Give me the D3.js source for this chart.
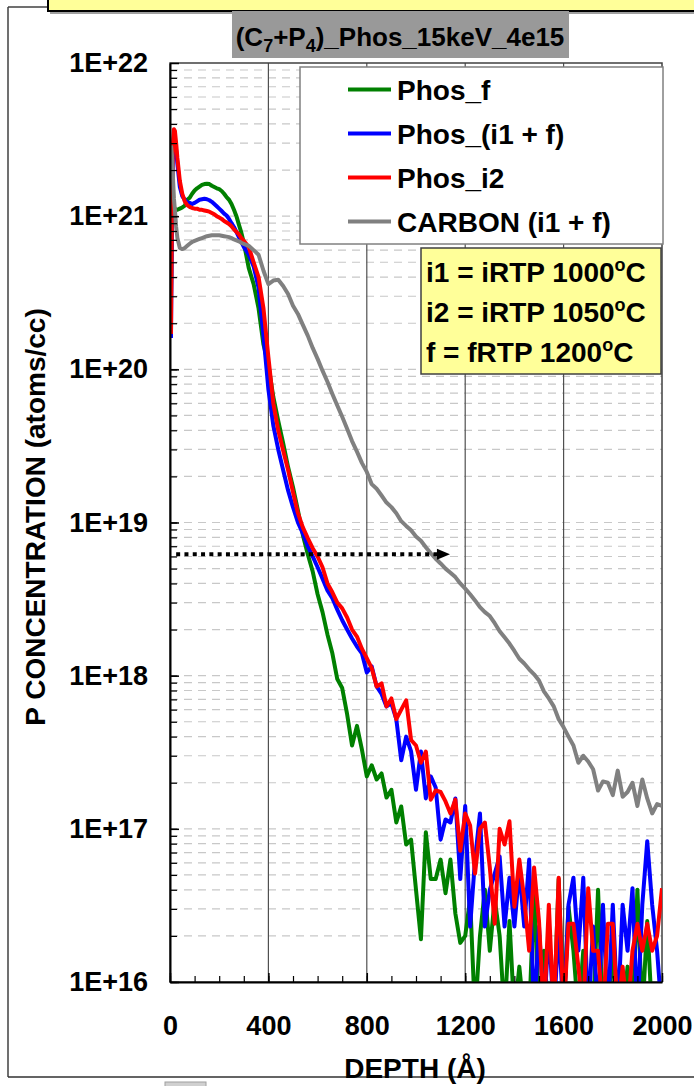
<!DOCTYPE html>
<html>
<head>
<meta charset="utf-8">
<script src="https://cdn.jsdelivr.net/npm/d3@7"></script>
<style>
  body { margin: 0; background: #fff; }
  svg { font-family: "Liberation Sans", Arial, sans-serif; font-weight: bold; }
</style>
</head>
<body>
<svg id="chart" width="694" height="1086"></svg>
<script>
// Depth grid (Angstrom) shared by all profiles
const depth = [4, 8, 12, 16, 20, 25, 30,
  40, 50, 60, 70, 80, 90, 100, 110, 120, 130, 140, 150, 160, 170, 180, 190, 200, 210, 220, 230, 240, 250, 260, 270, 280, 290, 300,
  320, 340, 360, 380, 400, 420, 440, 460, 480, 500, 520, 540, 560, 580, 600, 620, 640, 660, 680, 700, 720, 740, 760, 780, 800, 820, 840, 860, 880, 900, 920, 940, 960, 980, 1000,
  1020, 1040, 1060, 1080, 1100, 1120, 1140, 1160, 1180, 1200, 1220, 1240, 1260, 1280, 1300, 1320, 1340, 1360, 1380, 1400,
  1420, 1440, 1460, 1480, 1500, 1520, 1540, 1560, 1580, 1600, 1620, 1640, 1660, 1680, 1700, 1720, 1740, 1760, 1780, 1800,
  1820, 1840, 1860, 1880, 1900, 1920, 1940, 1960, 1980, 2000];

// Concentrations (atoms/cc)
const phosF = [3.0e20, 9.0e20, 1.12e21, 1.15e21, 1.12e21, 1.1e21, 1.1e21,
  1.12e21, 1.14e21, 1.17e21, 1.28e21, 1.32e21, 1.4e21, 1.47e21, 1.52e21, 1.56e21, 1.6e21, 1.62e21, 1.63e21, 1.62e21, 1.58e21, 1.55e21, 1.52e21, 1.5e21, 1.46e21, 1.4e21, 1.33e21, 1.28e21, 1.2e21, 1.1e21, 1.0e21, 8.8e20, 7.8e20, 6.7e20,
  4.6e20, 3.6e20, 2.5e20, 1.45e20, 1.07e20, 6.6e19, 4.6e19, 3.3e19, 2.3e19, 1.7e19, 1.2e19, 8.3e18, 6.2e18, 4.8e18, 3.4e18, 2.6e18, 1.86e18, 1.4e18, 9.5e17, 8.3e17, 5.6e17, 3.5e17, 4.7e17, 3.3e17, 2.2e17, 2.6e17, 2.1e17, 2.3e17, 1.6e17, 1.8e17, 1.1e17, 1.4e17, 7.9e16, 8.5e16, 4.0e16,
  1.9e16, 9.5e16, 4.7e16, 4.7e16, 6.3e16, 3.8e16, 6.3e16, 2.8e16, 1.8e16, 2.0e16,
  3.5e16, 6e15, 2.0e16, 4.0e16, 1.6e16, 3.5e16, 2.0e16, 6e15, 2.5e16, 6e15,
  1.26e16, 6e15, 6e15, 4.0e16, 6e15, 1.6e16, 6e15, 6e15, 4.7e16, 6e15,
  3.1e16, 1.6e16, 6e15, 1.6e16, 6e15, 6e15, 4.0e16, 6e15, 6e15, 1.6e16,
  6e15, 6e15, 1.26e16, 6e15, 4.0e16, 6e15, 2.5e16, 6e15, 6e15, 6e15];

const phosI1F = [1.6e20, 1.0e21, 2.6e21, 3.3e21, 3.2e21, 2.7e21, 2.2e21,
  1.55e21, 1.35e21, 1.28e21, 1.23e21, 1.22e21, 1.2e21, 1.22e21, 1.25e21, 1.28e21, 1.29e21, 1.3e21, 1.29e21, 1.27e21, 1.24e21, 1.2e21, 1.16e21, 1.12e21, 1.08e21, 1.04e21, 1.01e21, 9.6e20, 9.0e20, 8.5e20, 7.9e20, 7.3e20, 6.8e20, 6.3e20,
  5.6e20, 4.7e20, 3.4e20, 1.66e20, 7.4e19, 4.3e19, 3.0e19, 2.2e19, 1.62e19, 1.26e19, 1.0e19, 8.5e18, 7.0e18, 6.0e18, 5.1e18, 4.3e18, 3.6e18, 3.2e18, 2.7e18, 2.3e18, 2.0e18, 1.75e18, 1.55e18, 1.4e18, 1.05e18, 1.15e18, 8.5e17, 7.6e17, 6.3e17, 6.6e17, 5.2e17, 2.8e17, 4.0e17, 3.2e17, 1.8e17,
  3.2e17, 1.58e17, 2.2e17, 1.86e17, 8.5e16, 1.15e17, 1.1e17, 1.58e17, 4.7e16, 1.41e17,
  2.3e16, 6.3e16, 1.26e17, 2.3e16, 4.0e16, 5.1e16, 6.6e16, 2.3e16, 4.8e16, 2.3e16,
  5.4e16, 2.3e16, 6.3e16, 6e15, 2.3e16, 6e15, 2.3e16, 6e15, 2.3e16, 6e15,
  3.2e16, 4.8e16, 1.6e16, 4.8e16, 6e15, 2.3e16, 6e15, 3.2e16, 6e15, 3.2e16,
  6e15, 3.2e16, 1.6e16, 4.1e16, 6e15, 3.2e16, 8.3e16, 3.2e16, 1.6e16, 6e15];

const phosI2 = [1.7e20, 1.2e21, 3.0e21, 3.7e21, 3.6e21, 3.0e21, 2.4e21,
  1.7e21, 1.4e21, 1.25e21, 1.18e21, 1.15e21, 1.13e21, 1.12e21, 1.12e21, 1.1e21, 1.1e21, 1.09e21, 1.08e21, 1.07e21, 1.05e21, 1.03e21, 1.0e21, 9.8e20, 9.6e20, 9.3e20, 9.1e20, 8.9e20, 8.6e20, 8.2e20, 7.9e20, 7.6e20, 7.2e20, 6.9e20,
  6.3e20, 5.0e20, 4.0e20, 2.5e20, 1.2e20, 6.0e19, 4.0e19, 2.95e19, 2.2e19, 1.58e19, 1.15e19, 9.3e18, 7.9e18, 6.8e18, 6.0e18, 5.1e18, 4.0e18, 3.5e18, 3.0e18, 2.75e18, 2.4e18, 2.0e18, 1.8e18, 1.5e18, 1.3e18, 1.12e18, 8.5e17, 8.9e17, 6.3e17, 7.1e17, 5.2e17, 6.0e17, 6.9e17, 3.8e17, 3.5e17,
  2.7e17, 3.2e17, 1.55e17, 1.78e17, 1.74e17, 1.51e17, 1.26e17, 1.55e17, 7.2e16, 1.26e17,
  1.05e17, 5.1e16, 1.0e17, 1.1e17, 5.6e16, 2.4e16, 1.0e17, 7.9e16, 1.12e17, 3.1e16,
  6.3e16, 3.5e16, 1.6e16, 5.6e16, 2.5e16, 6e15, 3.2e16, 6e15, 4.8e16, 6e15,
  2.4e16, 2.4e16, 1.26e16, 6e15, 4.1e16, 1.6e16, 1.6e16, 6e15, 2.4e16, 2.4e16,
  6e15, 1.26e16, 6e15, 1.6e16, 2.4e16, 1.6e16, 2.4e16, 1.6e16, 2.0e16, 4.1e16];

const carbon = [2.9e21, 2.5e21, 1.8e21, 1.3e21, 1.1e21, 8.5e20, 7.2e20,
  6.2e20, 6.1e20, 6.2e20, 6.4e20, 6.6e20, 6.8e20, 6.9e20, 7.0e20, 7.1e20, 7.2e20, 7.3e20, 7.4e20, 7.45e20, 7.5e20, 7.5e20, 7.5e20, 7.5e20, 7.45e20, 7.4e20, 7.35e20, 7.3e20, 7.2e20, 7.05e20, 6.95e20, 6.85e20, 6.7e20, 6.6e20,
  6.4e20, 6.0e20, 5.6e20, 4.4e20, 3.6e20, 3.8e20, 3.85e20, 3.5e20, 3.1e20, 2.6e20, 2.3e20, 1.95e20, 1.66e20, 1.38e20, 1.17e20, 9.8e19, 8.3e19, 6.9e19, 5.8e19, 4.9e19, 4.1e19, 3.4e19, 2.9e19, 2.45e19, 2.14e19, 1.78e19, 1.66e19, 1.5e19, 1.35e19, 1.26e19, 1.15e19, 1.02e19, 9.5e18, 8.9e18, 8.1e18,
  7.6e18, 6.9e18, 6.3e18, 5.8e18, 5.4e18, 5.0e18, 4.7e18, 4.4e18, 4.0e18, 3.7e18,
  3.4e18, 3.1e18, 2.8e18, 2.6e18, 2.45e18, 2.2e18, 1.95e18, 1.78e18, 1.62e18, 1.45e18,
  1.29e18, 1.2e18, 1.1e18, 1.02e18, 9.3e17, 7.9e17, 7.1e17, 6.3e17, 5.2e17, 4.6e17,
  4.0e17, 3.5e17, 2.7e17, 3.0e17, 2.75e17, 2.45e17, 1.78e17, 2.04e17, 2.0e17, 1.66e17,
  2.4e17, 1.62e17, 1.74e17, 2.0e17, 1.41e17, 2.1e17, 1.58e17, 1.26e17, 1.45e17, 1.41e17];

const seriesNames = ['Phos_f', 'Phos_(i1 + f)', 'Phos_i2', 'CARBON (i1 + f)'];
const seriesColors = ['#008000', '#0000ff', '#ff0000', '#808080'];
const seriesValues = [phosF, phosI1F, phosI2, carbon];

const xTickValues = [0, 400, 800, 1200, 1600, 2000];
const yTickValues = [1e16, 1e17, 1e18, 1e19, 1e20, 1e21, 1e22];
const yTickLabels = ['1E+16', '1E+17', '1E+18', '1E+19', '1E+20', '1E+21', '1E+22'];

const noteLines = ['i1 = iRTP 1000', 'i2 = iRTP 1050', 'f = fRTP 1200'];

// dotted arrow: from/to depth at a fixed concentration
const arrowDepths = [25, 1138];
const arrowConc = 6.2e18;

// Layout
const plot = { left: 170, right: 662, top: 63, bottom: 982 };
const font = '"Liberation Sans", Arial, sans-serif';

const svg = d3.select('#chart');

// outer frame pieces
svg.append('line').attr('x1', 8).attr('x2', 8).attr('y1', 7).attr('y2', 1077)
  .attr('stroke', '#404040').attr('stroke-width', 1.5);
svg.append('line').attr('x1', 8).attr('x2', 48).attr('y1', 7).attr('y2', 7)
  .attr('stroke', '#404040').attr('stroke-width', 1.5);
svg.append('line').attr('x1', 8).attr('x2', 694).attr('y1', 1077).attr('y2', 1077)
  .attr('stroke', '#303030').attr('stroke-width', 1.5);
svg.append('rect').attr('x', 165).attr('y', 1082).attr('width', 41).attr('height', 10)
  .attr('fill', '#d0d0d0').attr('stroke', '#a0a0a0');
svg.append('line').attr('x1', 50).attr('x2', 694).attr('y1', 13).attr('y2', 13)
  .attr('stroke', '#808080').attr('stroke-width', 1.5);
svg.append('rect').attr('x', 48).attr('y', -6).attr('width', 660).attr('height', 17)
  .attr('fill', '#ffff99').attr('stroke', '#000').attr('stroke-width', 2);

// title
svg.append('rect').attr('x', 232).attr('y', 11).attr('width', 337).attr('height', 47)
  .attr('fill', '#999999');
const title = svg.append('text').attr('x', 400).attr('y', 46)
  .attr('text-anchor', 'middle').style('font-size', '26px');
title.append('tspan').text('(C');
title.append('tspan').attr('dy', 6).style('font-size', '18px').text('7');
title.append('tspan').attr('dy', -6).text('+P');
title.append('tspan').attr('dy', 6).style('font-size', '18px').text('4');
title.append('tspan').attr('dy', -6).text(')_Phos_15keV_4e15');

// scales
const x = d3.scaleLinear().domain([0, 2000]).range([plot.left, plot.right]);
const y = d3.scaleLog().domain([1e16, 1e22]).range([plot.bottom, plot.top]);

// minor log values (1..9 x 10^n)
const minorVals = [];
for (let e = 16; e < 22; e++) {
  for (let m = 1; m <= 9; m++) minorVals.push(m * Math.pow(10, e));
}

// horizontal dashed gridlines
svg.append('g').selectAll('line').data(minorVals.filter(v => v > 1e16)).join('line')
  .attr('x1', plot.left).attr('x2', plot.right)
  .attr('y1', d => y(d)).attr('y2', d => y(d))
  .attr('stroke', '#c8c8c8').attr('stroke-width', 1.2).attr('stroke-dasharray', '8,6');

// vertical gridlines
svg.append('g').selectAll('line').data(xTickValues.slice(1, -1)).join('line')
  .attr('x1', d => x(d)).attr('x2', d => x(d))
  .attr('y1', plot.top).attr('y2', plot.bottom)
  .attr('stroke', '#505050').attr('stroke-width', 1.2);

// plot border
svg.append('rect').attr('x', plot.left).attr('y', plot.top)
  .attr('width', plot.right - plot.left).attr('height', plot.bottom - plot.top)
  .attr('fill', 'none').attr('stroke', '#404040').attr('stroke-width', 1.5);

// data lines
svg.append('clipPath').attr('id', 'clip').append('rect')
  .attr('x', plot.left).attr('y', plot.top)
  .attr('width', plot.right - plot.left).attr('height', plot.bottom - plot.top);

const line = d3.line().x(d => x(d[0])).y(d => y(d[1]));
const lineG = svg.append('g').attr('clip-path', 'url(#clip)');
seriesValues.forEach((vals, i) => {
  lineG.append('path')
    .datum(depth.map((d, k) => [d, vals[k]]))
    .attr('d', line)
    .attr('fill', 'none')
    .attr('stroke', seriesColors[i])
    .attr('stroke-width', 4)
    .attr('stroke-linejoin', 'round');
});

// dotted arrow
const ay = y(arrowConc);
svg.append('line')
  .attr('x1', x(arrowDepths[0])).attr('x2', x(arrowDepths[1]) - 12)
  .attr('y1', ay).attr('y2', ay)
  .attr('stroke', '#000').attr('stroke-width', 4).attr('stroke-dasharray', '4,4.3');
svg.append('path')
  .attr('d', `M${x(arrowDepths[1])},${ay} L${x(arrowDepths[1]) - 13},${ay - 5.5} L${x(arrowDepths[1]) - 13},${ay + 5.5} Z`)
  .attr('fill', '#000');

// y axis: minor ticks, major ticks and labels
svg.append('g').attr('transform', `translate(${plot.left},0)`)
  .call(d3.axisLeft(y).tickValues(minorVals).tickFormat('').tickSizeInner(-7).tickSizeOuter(0))
  .call(g => g.select('.domain').remove())
  .call(g => g.selectAll('line').attr('stroke', '#000').attr('stroke-width', 1.2));

const yAxis = svg.append('g').attr('transform', `translate(${plot.left},0)`)
  .call(d3.axisLeft(y).tickValues(yTickValues)
    .tickFormat((d, i) => yTickLabels[i]).tickSizeInner(-9).tickSizeOuter(0).tickPadding(22));
yAxis.select('.domain').attr('stroke', '#000').attr('stroke-width', 2);
yAxis.selectAll('line').attr('stroke', '#000').attr('stroke-width', 1.5);
yAxis.selectAll('text').style('font-size', '27px').style('font-family', font)
  .style('font-weight', 'bold').attr('fill', '#000');

// x axis
svg.append('g').attr('transform', `translate(0,${plot.bottom})`)
  .call(d3.axisBottom(x).tickValues(d3.range(0, 2001, 100)).tickFormat('').tickSizeInner(-6).tickSizeOuter(0))
  .call(g => g.select('.domain').remove())
  .call(g => g.selectAll('line').attr('stroke', '#000').attr('stroke-width', 1.2));

const xAxis = svg.append('g').attr('transform', `translate(0,${plot.bottom})`)
  .call(d3.axisBottom(x).tickValues(xTickValues).tickFormat(d => String(d))
    .tickSizeInner(-9).tickSizeOuter(0).tickPadding(34));
xAxis.select('.domain').attr('stroke', '#000').attr('stroke-width', 2);
xAxis.selectAll('line').attr('stroke', '#000').attr('stroke-width', 1.5);
xAxis.selectAll('text').style('font-size', '27px').style('font-family', font)
  .style('font-weight', 'bold').attr('fill', '#000');

// axis titles
svg.append('text').attr('x', 415).attr('y', 1078).attr('text-anchor', 'middle')
  .style('font-size', '28px').text('DEPTH (Å)');
svg.append('text').attr('transform', 'translate(45,517) rotate(-90)').attr('text-anchor', 'middle')
  .style('font-size', '28px').text('P CONCENTRATION (atoms/cc)');

// legend
const legend = svg.append('g');
legend.append('rect').attr('x', 300).attr('y', 67).attr('width', 363).attr('height', 177)
  .attr('fill', '#fff').attr('stroke', '#808080').attr('stroke-width', 1.5);
seriesNames.forEach((name, i) => {
  const ly = 89.5 + i * 44;
  legend.append('line').attr('x1', 348).attr('x2', 391).attr('y1', ly).attr('y2', ly)
    .attr('stroke', seriesColors[i]).attr('stroke-width', 4);
  legend.append('text').attr('x', 397).attr('y', ly + 10.5)
    .style('font-size', '28px').text(name);
});

// annotation box
svg.append('rect').attr('x', 421).attr('y', 248).attr('width', 240).attr('height', 126)
  .attr('fill', '#ffff99').attr('stroke', '#404040').attr('stroke-width', 1.5);
noteLines.forEach((txt, i) => {
  const t = svg.append('text').attr('x', 426).attr('y', 282 + i * 40).style('font-size', '28px');
  t.append('tspan').text(txt);
  t.append('tspan').attr('dy', -11).style('font-size', '18px').text('o');
  t.append('tspan').attr('dy', 11).text('C');
});
</script>
</body>
</html>
